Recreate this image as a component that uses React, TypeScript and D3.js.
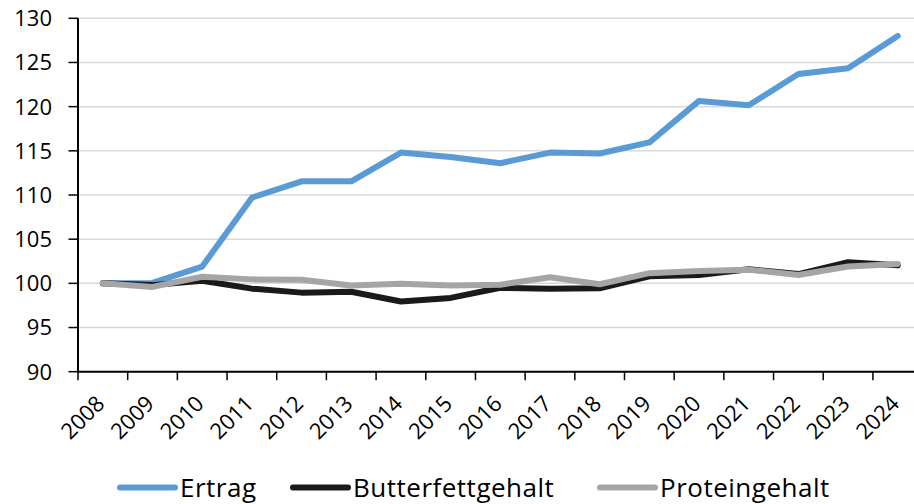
import React from 'react';
import * as d3 from 'd3';

const years = ['2008','2009','2010','2011','2012','2013','2014','2015','2016','2017','2018','2019','2020','2021','2022','2023','2024'];
const ertrag = [100, 100.05, 101.9, 109.7, 111.55, 111.55, 114.8, 114.3, 113.6, 114.8, 114.7, 115.95, 120.65, 120.15, 123.7, 124.35, 128.0];
const butterfett = [100, 99.8, 100.3, 99.4, 98.95, 99.05, 97.95, 98.35, 99.5, 99.4, 99.45, 100.8, 100.95, 101.6, 101.05, 102.4, 102.05];
const protein = [100, 99.6, 100.75, 100.45, 100.4, 99.75, 99.95, 99.75, 99.85, 100.7, 99.9, 101.15, 101.4, 101.55, 100.95, 101.9, 102.2];
const yTicks = [90, 95, 100, 105, 110, 115, 120, 125, 130];
const seriesNames = ['Ertrag', 'Butterfettgehalt', 'Proteingehalt'];
const seriesColors = ['#5B9BD5', '#1A1A1A', '#A5A5A5'];

const W = 914, H = 504;
const FONT = "'Open Sans', sans-serif";

export default function App() {
  const x = d3.scaleBand<string>().domain(years).range([78, 922.6]).padding(0);
  const y = d3.scaleLinear().domain([90, 130]).range([371.7, 18.3]);
  const cx = (d: string) => (x(d) as number) + x.bandwidth() / 2;
  const line = d3.line<number>().x((_, i) => cx(years[i])).y(v => y(v));
  const series = [ertrag, butterfett, protein];
  const legendX = [120, 293, 600];
  const boundaries = years.map(d => x(d) as number).concat([(x(years[years.length - 1]) as number) + x.bandwidth()]);

  return (
    <svg width={W} height={H} style={{ position: 'absolute', left: 0, top: 0, background: '#fff' }} fontFamily={FONT}>
      <rect width={W} height={H} fill="#fff" />
      {yTicks.filter(t => t !== 90).map(t => (
        <line key={'g' + t} x1={78} x2={W} y1={y(t)} y2={y(t)} stroke="#D9D9D9" strokeWidth={1.5} />
      ))}
      {yTicks.map(t => (
        <g key={'yt' + t}>
          <line x1={68.5} x2={78} y1={y(t)} y2={y(t)} stroke="#000" strokeWidth={1.5} />
          <text x={52} y={y(t)} dy="0.36em" textAnchor="end" fontSize={22} fill="#000">{t}</text>
        </g>
      ))}
      <line x1={78} x2={78} y1={y(130)} y2={y(90)} stroke="#000" strokeWidth={2} />
      <line x1={77} x2={W} y1={y(90)} y2={y(90)} stroke="#000" strokeWidth={2} />
      {boundaries.map((b, i) => (
        <line key={'xt' + i} x1={b} x2={b} y1={y(90)} y2={y(90) + 8.5} stroke="#000" strokeWidth={1.5} />
      ))}
      {years.map(d => (
        <text key={'xl' + d} transform={`translate(${cx(d) + 3},${405}) rotate(-45)`} textAnchor="end" fontSize={22} fill="#000">{d}</text>
      ))}
      {series.map((s, i) => (
        <path key={'s' + i} d={line(s) as string} fill="none" stroke={seriesColors[i]} strokeWidth={6} strokeLinejoin="round" strokeLinecap="round" />
      ))}
      {seriesNames.map((n, i) => (
        <g key={'lg' + n}>
          <line x1={legendX[i]} x2={legendX[i] + 55} y1={487.5} y2={487.5} stroke={seriesColors[i]} strokeWidth={6} strokeLinecap="round" />
          <text x={legendX[i] + 60} y={487.5} dy="0.36em" fontSize={26} letterSpacing={0.5} fill="#000">{n}</text>
        </g>
      ))}
    </svg>
  );
}
